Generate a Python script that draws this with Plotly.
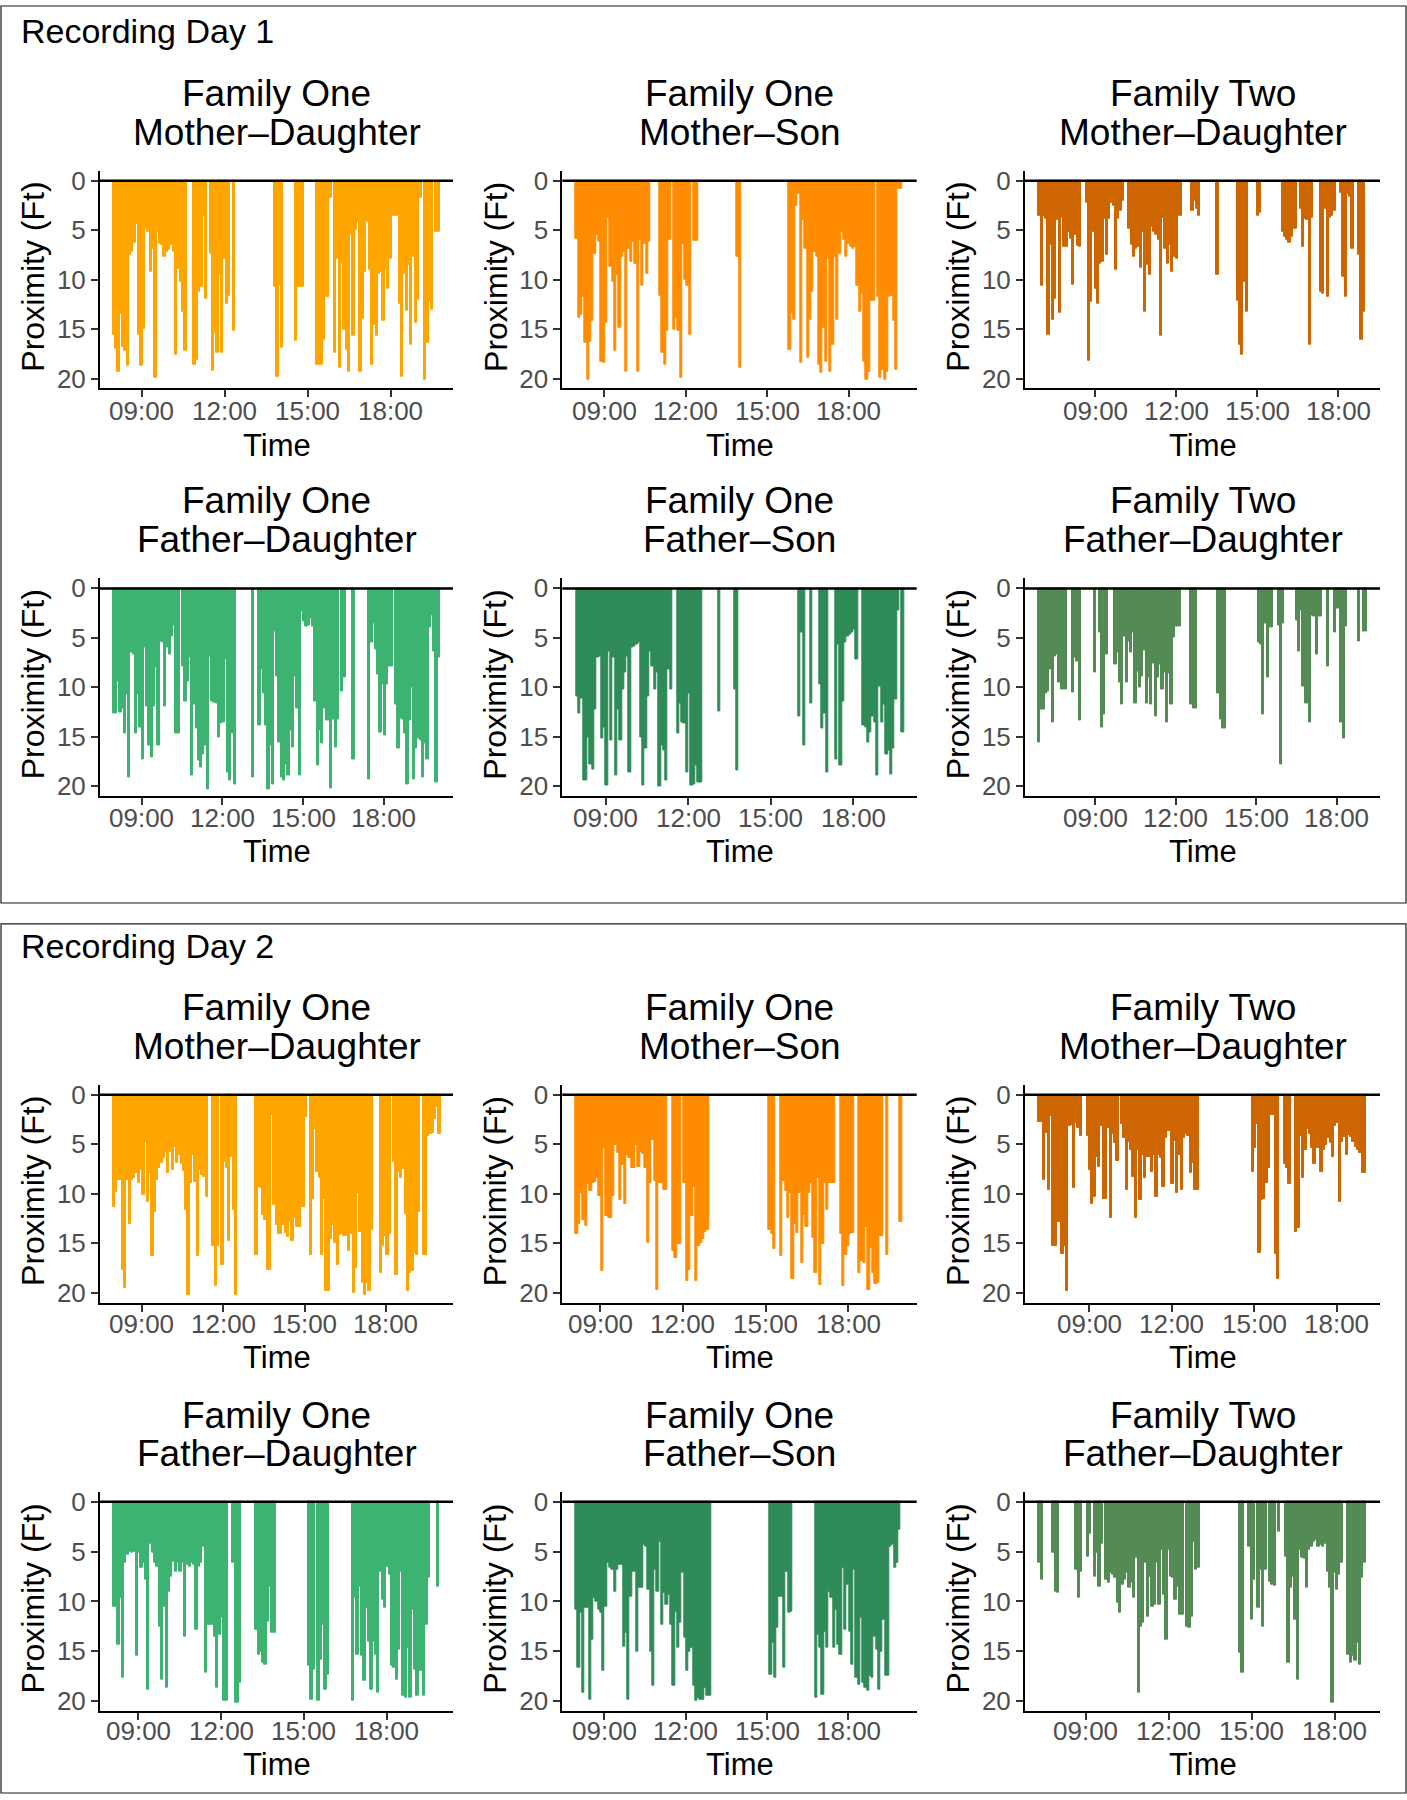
import plotly.graph_objects as go

N = None
READING_MINUTES = 5  # one proximity reading every 5 minutes

# ---------------- Recording Day 1 ----------------
d1_f1_mother_daughter_start = "07:57"
d1_f1_mother_daughter = [
    15.6, 17, 19.3, 13.5, 16.8, 17.2, 18.7, 7.5, 7.2, 6.3,
    4.4, 15.6, 18.7, 15.0, 4.9, 5.2, 9.2, 6.9, 19.9, 5.2,
    6.4, 6.5, 7.7, 7.2, 7.0, 6.5, 7.2, 17.6, 8.9, 10.2,
    13.2, 17.2, N, N, N, 18.6, 18.1, 11.2, 10.7, 3.5,
    11.9, N, 7.4, 19.2, 15.4, 17.4, 9.5, 17.4, 7.9, 12.4,
    11.6, N, 15.2, N, N, N, N, N, N, N,
    N, N, N, N, N, N, N, N, N, N,
    10.7, 19.8, 10.6, 16.9, N, N, N, N, N, 16.2,
    10.7, 10.7, 10.7, N, N, N, N, N, 18.6, 18.6,
    18.6, 16.1, 11.7, 11.7, 1.7, N, 17.4, 7.9, 18.9, 8.4,
    15.1, 17.1, 19.3, 5.5, 15.7, 5.0, 4.2, 19.3, 14, 9.2,
    4.2, 9.0, 18.6, 14.6, 15.7, 9.4, 9.2, 14.2, 8.9, 10.9,
    7.9, 3.5, 3.5, 3.5, 12.4, 19.8, 9.4, 13.1, 8.5, 16.6,
    7.7, 14.4, 12, 1.7, N, 20.1, 16.4, 12.2, 13, N,
    5.2, 5.2,
]

d1_f1_mother_son_start = "07:57"
d1_f1_mother_son = [
    5.9, 13.9, 13.6, 11.7, 16.4, 20.1, 16.3, 14.2, 7.4, 5.5,
    6.2, 18.3, 18.4, 14.4, 3.7, 8.7, 10.2, 17.2, 9.5, 14.9,
    7.7, 7.2, 19.3, 6.9, 8.2, 6.2, 8.4, 19.3, 6.0, 10.6,
    6.4, 9.4, 6.2, N, N, N, N, 11.6, 17.4, 18.6,
    15.2, 6.0, N, 15.1, 13.9, 15.2, 19.9, 6.4, 10.0, 10.6,
    15.6, N, 6.1, 6.1, N, N, N, N, N, N,
    N, N, N, N, N, N, N, N, N, N,
    N, 7.7, 18.9, N, N, N, N, N, N, N,
    N, N, N, N, N, N, N, N, N, N,
    N, N, N, N, 17.1, 13.4, 14.1, 2.5, 1.3, 18.4,
    4.0, 6.9, 17.9, 14.1, 11.2, 7.2, 7.7, 18.6, 19.4, 14.9,
    18.3, 7.9, 19.3, 16.6, 7.7, 14.1, 7.4, 5.2, 6.0, 7.7,
    6.4, 6.7, 6.9, 6.7, 10.6, 13.2, 11.4, 18.3, 20.1, 19.3,
    12.1, 12.1, N, 11.7, 19.9, 19.1, 20.1, 19.3, 11.7, 11.6,
    14.2, 19.1, 0.8, 0.8,
]

d1_f2_mother_daughter_start = "06:54"
d1_f2_mother_daughter = [
    3.5, 10.6, 3.5, 3.9, 15.6, 6.5, 14.1, 11.9, 4.0, 13.4,
    3.7, 6.7, 6.7, 5.2, 5.9, 10.5, 5.5, 6.6, 6.7, N,
    N, 2.2, 18.2, 12.2, 5.2, 10.9, 12.4, 8.4, 8.2, 3.9,
    7.5, 3.9, 2.2, 2.5, 9.0, 3.9, 3.0, 2.0, N, N,
    4.9, 6.5, 7.7, 6.9, 6.7, 8.8, 5.2, 13.2, 8.5, 9.5,
    4.7, 5.2, 5.5, 6.0, 15.7, 3.7, 6.9, 8.4, 6.5, 9.2,
    7.7, 7.9, 3.5, 3.5, N, N, N, N, 3.0, 2.0,
    2.8, 3.5, N, N, N, N, N, N, N, 9.5,
    N, N, N, N, N, N, N, N, 12.1, 16.6,
    17.6, 10.2, 13.2, N, N, N, N, 3.5, 3.2, N,
    N, N, N, N, N, N, N, N, 5.2, 5.7,
    6.0, 6.3, 5.7, 4.9, 4.9, N, 2.8, 6.7, 3.9, 4.0,
    16.6, 3.7, N, N, N, 11.2, 11.4, 2.8, 11.7, 3.7,
    3.5, 3.0, N, N, 1.2, 9.7, 11.7, 1.3, 1.6, 6.9,
    N, N, 7.5, 16.1, 13.2,
]

d1_f1_father_daughter_start = "07:55"
d1_f1_father_daughter = [
    12.6, 12.6, 9.4, 12.5, 12.1, 14.7, 10.7, 19.1, 6.5, 6.7,
    14.7, 10.7, 14.1, 17.3, 6.0, 11.9, 15.9, 17.1, 11.9, 8.0,
    15.9, 5.4, 5.5, 11.9, 6.0, 6.7, 4.9, 3.7, 14.7, 14.7,
    N, 7.9, 11.4, 9.4, 7.0, 18.9, 11.7, 14.2, 17.4, 18.1,
    16.8, 15.9, 20.3, 6.9, 11.4, 11.5, 11.6, 15.1, 13.7, 13.6,
    7.2, 18.6, 19.4, 14.7, 19.8, N, N, N, N, N,
    N, N, 19.1, N, N, 13.9, 8.2, 10.6, 13.9, 20.3,
    15.9, 19.8, 4.4, 8.9, 15.6, 19.1, 19.4, 17.8, 18.9, 14.4,
    16.1, 8.9, 12.1, 18.9, 2.3, 3.3, 3.9, 3.7, 3.0, 3.9,
    11.4, 17.9, 14.4, 15.7, 12.1, 13.4, 13.4, 20.2, 13.2, 16.1,
    13.2, N, 10.4, 9.0, N, N, N, 17.3, N, N,
    N, N, N, N, 19.3, 5.5, 3.5, 6.2, 8.7, 14.6,
    9.7, 14.9, 9.7, 7.9, 7.9, N, 11.7, 16.2, 13.1, 13.2,
    14.7, 19.8, 13.4, 10.0, 19.3, 16.2, 15.2, 15.4, 19.1, 15.7,
    17.3, 4.0, 2.7, 6.4, 19.6, 7.0,
]

d1_f1_father_son_start = "07:55"
d1_f1_father_son = [
    10.9, 12.6, 11.1, 19.4, 19.4, 15.1, 17.8, 18.3, 12.2, 7.0,
    6.9, 15.2, 14.1, 19.9, 6.4, 15.4, 7.0, 18.9, 12.2, 15.4,
    10.2, 8.5, 6.9, 18.6, 6.0, 5.9, 5.7, 5.5, 15.1, 19.9,
    16.2, 10.9, 6.4, 7.9, 10.2, 8.5, 20.0, 15.9, 16.4, 19.4,
    8.2, 10.2, N, N, 14.7, 11.6, 13.6, 13.7, 18.6, 10.6,
    19.9, 19.8, 17.9, 19.6, 19.6, N, N, N, N, N,
    N, N, 12.4, N, N, N, N, N, N, 10.2,
    18.4, N, N, N, N, N, N, N, N, N,
    N, N, N, N, N, N, N, N, N, N,
    N, N, N, N, N, N, N, 12.9, 4.5, 15.9,
    N, N, 11.6, N, N, N, 9.7, 14.2, 12.6, 18.6,
    N, N, N, 17.3, 5.7, 17.9, 11.4, 5.5, 4.9, 4.7,
    4.5, 4.2, 7.2, N, N, 13.9, 14.1, 15.6, 14.6, 12.9,
    13.6, 18.9, 9.9, 13.6, 11.7, 16.8, 16.4, 18.8, 16.2, 11.2,
    2.2, N, 14.6,
]

d1_f2_father_daughter_start = "06:53"
d1_f2_father_daughter = [
    15.6, 12.2, 12.2, 10.6, 10.4, 8.2, 13.6, 6.9, 6.7, 9.5,
    10.2, 10.2, 10.2, N, N, 10.5, 7.0, 7.4, 13.4, N,
    N, N, N, N, N, 8.5, N, 4.5, 14.1, 12.7,
    6.7, N, N, N, 7.7, 6.5, 9.5, 11.7, 4.9, 9.5,
    5.4, 6.5, 4.5, 11.6, 8.4, 10.0, 8.9, 6.3, 11.6, 9.0,
    11.7, 7.6, 12.9, 9.0, 7.7, 10.2, 8.5, 13.6, 8.6, 11.7,
    5.0, 3.9, 3.9, 3.9, N, N, N, N, 11.7, 12.1,
    12.1, N, N, N, N, N, N, N, N, N,
    10.6, 13.2, 14.2, 14.2, N, N, N, N, N, N,
    N, N, N, N, N, N, N, N, 5.5, 5.7,
    12.7, 3.5, 9.0, 4.0, 4.0, N, N, 3.7, 17.8, 3.5,
    N, N, N, N, N, 3.2, 6.4, 2.2, 9.9, 11.6,
    11.6, 13.6, 2.7, 2.8, 6.7, 2.8, 2.8, N, N, 7.9,
    N, N, 4.5, 2.0, 2.0, 13.6, 15.2, 3.9, N, N,
    N, N, N, 5.4, N, 4.4, 4.4,
]

# ---------------- Recording Day 2 ----------------
d2_f1_mother_daughter_start = "07:56"
d2_f1_mother_daughter = [
    11.3, 9.8, 8.6, 8.6, 17.7, 19.5, 8.6, 13.0, 8.6, 8.4,
    7.9, 8.9, 7.6, 10.1, 4.8, 10.8, 7.9, 16.3, 11.8, 8.6,
    7.4, 6.9, 6.4, 5.8, 7.9, 5.8, 7.6, 5.3, 6.9, 6.1,
    7.0, 7.7, 11.6, 20.2, 8.9, 6.1, 8.8, 16.3, 7.6, 8.1,
    8.3, 10.3, N, N, 15.3, 19.3, 15.3, N, 17.2, 6.8,
    7.4, 14.8, 6.3, 11.6, 20.2, N, N, N, N, N,
    N, N, N, 16.2, 9.3, 9.4, 12.1, 12.6, 17.7, 17.7,
    2.0, 11.1, 13.1, 14.1, 14.1, 13.1, 13.9, 14.4, 12.8, 14.8,
    12.4, 13.3, 13.3, 11.3, 11.3, 2.2, N, 16.2, 10.5, 3.4,
    7.8, 8.4, 16.2, 10.5, 19.8, 19.8, 14.6, 13.1, 15.0, 17.2,
    14.2, 14.1, 14.3, 14.3, 15.8, 14.1, 20.0, 17.5, 9.9, 13.8,
    19.0, 20.2, 19.0, 19.8, 13.6, N, N, N, 18.0, 15.3,
    14.3, 16.2, 14.1, N, 6.8, 18.2, 7.8, 8.4, 7.5, 12.0,
    19.8, 18.0, 17.8, 16.0, 16.2, 11.8, N, 16.2, 16.2, 4.2,
    3.9, 3.8, 2.4, 1.2, 3.9,
]

d2_f1_mother_son_start = "08:07"
d2_f1_mother_son = [
    14.1, 13.0, 9.9, 12.6, 13.2, 9.0, 9.7, 8.9, 8.8, 8.4,
    10.2, 17.8, 5.4, 12.2, 12.4, 12.4, 10.2, 5.1, 5.9, 10.6,
    7.1, 11.0, 6.1, 6.4, 7.4, 7.4, 5.1, 7.3, 5.8, 6.0,
    7.4, 15.0, 8.9, 4.6, 8.7, 19.7, 8.9, 8.9, 9.6, 9.6,
    N, N, 15.8, 16.5, 15.1, 15.1, N, 8.9, 18.8, 17.7,
    12.2, 9.3, 18.8, 15.3, 15.0, 14.6, 13.8, 13.6, N, N,
    N, N, N, N, N, N, N, N, N, N,
    N, N, N, N, N, N, N, N, N, N,
    N, N, N, N, 13.6, 14.1, 15.6, N, N, 16.3,
    8.7, 9.7, 12.4, 9.9, 18.6, 13.0, 13.9, 9.9, 17.0, 12.1,
    13.3, 9.9, 8.9, 14.5, 18.0, 8.4, 19.2, 15.1, 8.9, 11.6,
    8.9, 8.9, 8.9, N, N, 14.1, 19.3, 16.2, 15.3, 14.1,
    13.9, N, N, 18.0, 16.8, 17.0, 13.3, 19.7, 15.5, 18.0,
    19.1, 19.0, 14.3, 14.3, N, 16.2, N, N, N, N,
    N, 12.8,
]

d2_f2_mother_daughter_start = "07:09"
d2_f2_mother_daughter = [
    2.7, 2.7, 8.6, 3.8, 9.6, 2.1, 15.3, 15.3, 12.8, 12.8,
    16.1, 15.3, 19.8, 3.1, 3.0, 9.4, 2.8, 3.3, 4.2, N,
    N, 4.2, 7.6, 11.0, 10.3, 6.3, 7.3, 3.1, 10.5, 10.5,
    3.3, 12.4, 3.9, 4.9, 6.7, N, 2.9, 4.4, 9.6, 4.8,
    5.6, 8.3, 12.4, 5.6, 10.6, 6.1, 8.4, 6.3, 6.3, 7.8,
    6.1, 10.3, 6.1, 6.4, 9.3, 4.4, 3.6, 3.6, 9.0, 4.7,
    9.9, 6.1, 9.6, 4.4, 3.9, 4.2, 7.9, 6.9, 9.6, 9.6,
    N, N, N, N, N, N, N, N, N, N,
    N, N, N, N, N, N, N, N, N, N,
    N, N, N, 7.8, 5.4, 2.9, 16.0, 10.6, 10.5, 8.9,
    7.4, 2.0, 2.0, 16.1, 18.6, N, N, 7.0, 7.4, 9.0,
    N, N, 13.8, 13.4, 4.2, 8.4, 5.6, 3.4, 3.9, 5.4,
    7.0, 5.4, 5.4, 7.8, 5.6, 5.1, 4.4, 4.9, 6.3, 3.1,
    2.8, 10.8, 4.8, 4.3, 6.1, 4.1, 4.3, 4.8, 5.3, 5.6,
    5.9, 7.9, 7.9,
]

d2_f1_father_daughter_start = "08:04"
d2_f1_father_daughter = [
    10.5, 10.5, 14.3, 9.6, 17.6, 6.1, 5.3, 5.0, 5.1, 5.0,
    15.4, 5.1, 6.6, 6.1, 7.8, 18.8, 4.2, 5.1, 6.1, 6.5,
    12.5, 17.8, 10.5, 18.6, 9.0, 7.5, 6.0, 7.0, 6.1, 7.0,
    6.1, 13.5, 6.3, 6.5, 6.1, 6.3, 12.8, 6.5, 6.1, 4.5,
    17.1, 12.3, 12.3, 12.3, 13.5, 18.6, 13.3, 11.6, 19.9, 19.9,
    N, N, 6.1, 20.1, 20.1, 18.1, N, N, N, N,
    N, N, 12.8, 15.3, 15.0, 16.1, 16.3, 12.0, 8.5, 13.1,
    13.1, N, N, N, N, N, N, N, N, N,
    N, N, N, N, N, 16.4, 19.8, 16.8, N, 19.9,
    15.8, 12.3, 18.8, 17.3, N, N, N, N, N, N,
    N, N, N, N, 19.9, 9.6, 15.3, 8.5, 15.4, 17.9,
    10.6, 14.0, 18.8, 14.0, 15.3, 19.1, 7.0, 9.8, 10.6, 6.5,
    7.3, 16.4, 16.6, 17.8, 14.8, 7.0, 19.4, 19.6, 14.6, 19.6,
    10.8, 16.8, 19.4, 16.9, 16.9, 19.4, 12.3, 7.6, N, N,
    N, 8.5,
]

d2_f1_father_son_start = "07:56"
d2_f1_father_son = [
    10.8, 16.6, 11.1, 19.1, 10.6, 10.6, 19.8, 13.8, 9.6, 10.0,
    10.8, 11.1, 16.9, 10.5, 6.1, 6.6, 6.8, 9.0, 6.8, 6.3,
    6.3, 14.5, 13.1, 19.8, 9.5, 7.0, 7.0, 15.0, 8.6, 8.6,
    4.3, 4.5, 8.8, 15.0, 18.4, 6.8, 9.0, 4.0, 12.3, 9.1,
    10.3, 9.3, 12.3, 18.4, 11.0, 14.6, 12.1, 7.1, 13.6, 16.9,
    15.0, 14.6, 18.4, 19.9, 19.6, 19.8, 19.8, 18.6, 19.4, 19.4,
    N, N, N, N, N, N, N, N, N, N,
    N, N, N, N, N, N, N, N, N, N,
    N, N, N, N, N, N, 17.3, 14.1, 17.6, 12.6,
    9.5, 9.5, 16.6, 7.0, 11.1, 11.0, N, N, N, N,
    N, N, N, N, N, N, 19.6, 13.3, 14.6, 19.3,
    13.0, 14.6, 9.0, 9.6, 14.6, 10.8, 14.3, 15.3, 6.6, 12.8,
    8.3, 13.0, 16.3, 6.8, 17.6, 18.3, 11.6, 18.1, 18.6, 18.9,
    17.4, 17.6, 13.5, 14.8, 18.8, 15.0, 11.8, 17.4, 17.4, 4.5,
    4.3, 6.6, 6.1, 2.8,
]

d2_f2_father_daughter_start = "07:17"
d2_f2_father_daughter = [
    6.1, 7.8, N, N, N, N, 5.1, 9.0, 9.1, N,
    N, N, N, N, N, N, 6.8, 9.6, 7.0, N,
    N, 5.5, 3.2, N, 7.5, 5.1, 8.5, 4.2, N, 7.8,
    8.1, 7.1, 7.3, 7.6, 10.1, 11.1, 8.3, 7.8, 7.1, 8.6,
    8.1, 9.6, 5.6, 19.1, 12.5, 12.1, 6.1, 11.5, 7.5, 10.5,
    10.3, 6.1, 10.3, 4.8, 9.3, 13.8, 4.8, 7.5, 7.6, 9.8,
    8.5, 11.3, 11.3, N, 12.5, 12.6, 11.5, 4.0, 6.8, 6.6,
    N, N, N, N, N, N, N, N, N, N,
    N, N, N, N, N, N, N, 15.1, 17.1, N,
    N, 4.5, 11.8, 7.8, N, 10.6, 6.8, 12.5, 6.8, N,
    8.0, 8.3, 8.4, N, 3.0, N, N, 5.5, 16.1, 8.6,
    7.5, 11.8, 17.8, 4.8, 5.6, 5.7, 8.6, 4.8, 4.5, 4.0,
    3.8, 4.5, 4.3, 4.5, 4.2, 7.0, 8.6, 20.1, 7.1, 8.8,
    7.3, 6.1, N, N, 15.3, 16.1, 15.4, 15.9, 14.1, 16.3,
    7.6, 6.1,
]

day_labels = ["Recording Day 1", "Recording Day 2"]
family_labels = ["Family One", "Family One", "Family Two",
                 "Family One", "Family One", "Family Two"]
pair_labels = ["Mother–Daughter", "Mother–Son", "Mother–Daughter",
               "Father–Daughter", "Father–Son", "Father–Daughter"]
time_tick_values = [9, 12, 15, 18]
time_tick_labels = ["09:00", "12:00", "15:00", "18:00"]
proximity_ticks = [0, 5, 10, 15, 20]

series = [
    (d1_f1_mother_daughter_start, d1_f1_mother_daughter),
    (d1_f1_mother_son_start, d1_f1_mother_son),
    (d1_f2_mother_daughter_start, d1_f2_mother_daughter),
    (d1_f1_father_daughter_start, d1_f1_father_daughter),
    (d1_f1_father_son_start, d1_f1_father_son),
    (d1_f2_father_daughter_start, d1_f2_father_daughter),
    (d2_f1_mother_daughter_start, d2_f1_mother_daughter),
    (d2_f1_mother_son_start, d2_f1_mother_son),
    (d2_f2_mother_daughter_start, d2_f2_mother_daughter),
    (d2_f1_father_daughter_start, d2_f1_father_daughter),
    (d2_f1_father_son_start, d2_f1_father_son),
    (d2_f2_father_daughter_start, d2_f2_father_daughter),
]

# ---------------- styling / layout ----------------
pair_colours = ["#FFA500", "#FF8C00", "#CD6600", "#3CB371", "#2E8B57", "#548B54"]
x_ranges = [
    [7.49, 20.25], [7.46, 20.49], [6.41, 19.54],
    [7.45, 20.57], [7.42, 20.30], [6.39, 19.61],
    [7.46, 20.47], [7.63, 20.48], [6.66, 19.57],
    [7.61, 20.40], [7.45, 20.52], [6.80, 19.63],
]
W, H = 1407, 1800
col_px = [(100, 453), (562.3, 916.7), (1025, 1380)]
row_px = [(166.7, 385.6), (576.7, 795.6), (1086, 1305), (1495, 1715.7)]
title1_y = [89, 498.6, 1008, 1418]
title2_y = [128, 537.7, 1047, 1457]
ticklabel_y = [408, 817.5, 1326, 1735.5]
timelabel_y = [442.5, 851, 1360.5, 1769.5]
FONT = "Liberation Sans, Arial, Helvetica, sans-serif"


def to_hours(hhmm):
    h, m = hhmm.split(":")
    return int(h) + int(m) / 60.0


fig = go.Figure()
layout = dict(
    width=W, height=H, margin=dict(l=0, r=0, t=0, b=0),
    paper_bgcolor="white", plot_bgcolor="white",
    showlegend=False, font=dict(family=FONT, color="black"),
    bargap=0,
)
annotations = []
shapes = []
step = READING_MINUTES / 60.0

for i, (start, vals) in enumerate(series):
    r, c = divmod(i, 3)
    colour = pair_colours[i % 6]
    t0 = to_hours(start)
    xs = [t0 + (k + 0.5) * step for k in range(len(vals))]
    suffix = "" if i == 0 else str(i + 1)
    fig.add_trace(go.Bar(
        x=xs, y=vals, width=step,
        marker=dict(color=colour, line=dict(color=colour, width=1)),
        xaxis="x" + suffix, yaxis="y" + suffix,
        hoverinfo="skip", showlegend=False,
    ))
    x0, x1 = col_px[c]
    ytop, ybot = row_px[r]
    axis_common = dict(
        ticks="outside", ticklen=7, tickwidth=2, tickcolor="#333333",
        showline=True, linecolor="black", linewidth=2,
        showgrid=False, zeroline=False, fixedrange=True,
        tickfont=dict(family=FONT, size=26, color="#4D4D4D"),
    )
    layout["xaxis" + suffix] = dict(
        domain=[x0 / W, x1 / W], anchor="y" + suffix,
        range=x_ranges[i], tickmode="array",
        tickvals=time_tick_values, showticklabels=False,
        **axis_common,
    )
    layout["yaxis" + suffix] = dict(
        domain=[1 - ybot / H, 1 - ytop / H], anchor="x" + suffix,
        range=[21, -1], tickmode="array", tickvals=proximity_ticks,
        **axis_common,
    )
    # reference line at zero proximity
    shapes.append(dict(
        type="line", xref="x" + suffix + " domain", yref="y" + suffix,
        x0=0, x1=1, y0=0, y1=0, line=dict(color="black", width=2.5),
        layer="above",
    ))
    # time tick labels
    for v, lbl in zip(time_tick_values, time_tick_labels):
        annotations.append(dict(
            text=lbl, x=v, xref="x" + suffix,
            y=1 - ticklabel_y[r] / H, yref="paper", showarrow=False,
            xanchor="center", yanchor="middle",
            font=dict(family=FONT, size=26, color="#4D4D4D"),
        ))
    cx = (x0 + x1) / 2 / W
    annotations.append(dict(
        text=family_labels[i % 6], x=cx, y=1 - title1_y[r] / H,
        xref="paper", yref="paper", showarrow=False,
        xanchor="center", yanchor="middle",
        font=dict(family=FONT, size=37, color="black"),
    ))
    annotations.append(dict(
        text=pair_labels[i % 6], x=cx, y=1 - title2_y[r] / H,
        xref="paper", yref="paper", showarrow=False,
        xanchor="center", yanchor="middle",
        font=dict(family=FONT, size=37, color="black"),
    ))
    annotations.append(dict(
        text="Time", x=cx, y=1 - timelabel_y[r] / H,
        xref="paper", yref="paper", showarrow=False,
        xanchor="center", yanchor="middle",
        font=dict(family=FONT, size=31, color="black"),
    ))
    annotations.append(dict(
        text="Proximity (Ft)", x=(x0 - 67) / W,
        y=1 - ((ytop + ybot) / 2 - 3) / H,
        xref="paper", yref="paper", showarrow=False, textangle=-90,
        xanchor="center", yanchor="middle",
        font=dict(family=FONT, size=32, color="black"),
    ))

# day boxes and their labels
box_px = [(1, 903), (924, 1798)]
label_y = [26.5, 946.5]
for d in range(2):
    top, bot = box_px[d]
    shapes.append(dict(
        type="rect", xref="paper", yref="paper",
        x0=1 / W, x1=1406 / W, y0=1 - bot / H, y1=1 - top / H,
        line=dict(color="#1A1A1A", width=1.2), fillcolor="rgba(0,0,0,0)",
        layer="below",
    ))
    annotations.append(dict(
        text=day_labels[d], x=18.5 / W, y=1 - label_y[d] / H,
        xref="paper", yref="paper", showarrow=False,
        xanchor="left", yanchor="middle",
        font=dict(family=FONT, size=34, color="black"),
    ))

layout["annotations"] = annotations
layout["shapes"] = shapes
fig.update_layout(**layout)
fig.write_html(
    "out.html",
    config={"displayModeBar": False},
    post_script="document.body.style.margin='0';document.body.style.padding='0';",
)
